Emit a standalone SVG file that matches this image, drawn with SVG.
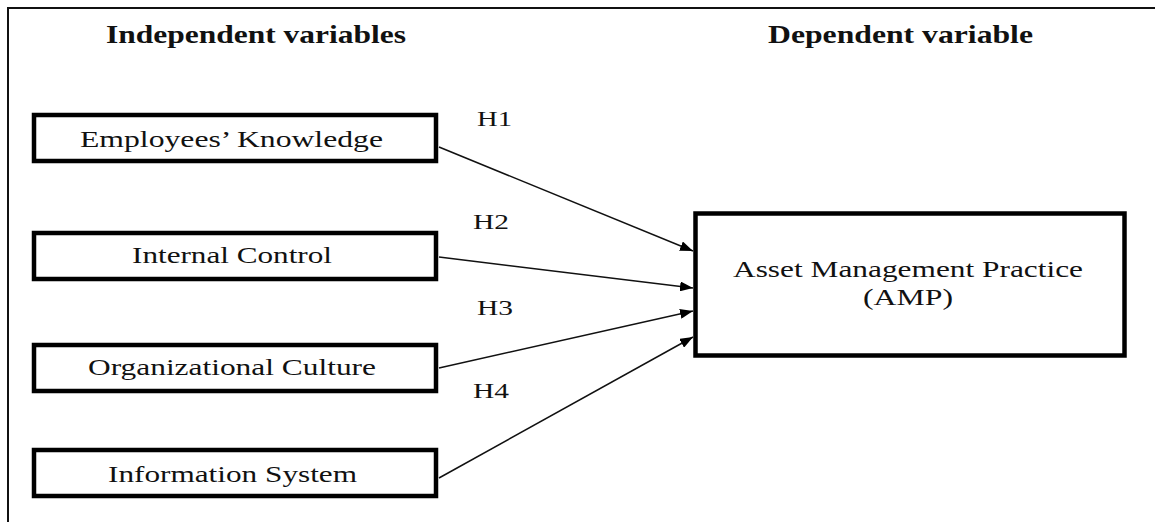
<svg xmlns="http://www.w3.org/2000/svg" width="1155" height="522" viewBox="0 0 1155 522">
<style>
.box{fill:#fff;stroke:#000;stroke-width:4.5}
.lbl{font-family:"Liberation Serif","Times New Roman",serif;font-size:23.5px;fill:#111}
.h{font-family:"Liberation Serif","Times New Roman",serif;font-size:20.5px;fill:#111}
.hdr{font-family:"Liberation Serif","Times New Roman",serif;font-size:24.5px;font-weight:bold;fill:#111}
.con{stroke:#111;stroke-width:1.5;fill:none}
</style>
<defs>
<marker id="ah" markerUnits="userSpaceOnUse" markerWidth="14" markerHeight="10" refX="13" refY="5" orient="auto">
<path d="M0,0 L13,5 L0,10 z" fill="#000"/>
</marker>
</defs>
<rect width="1155" height="522" fill="#fff"/>
<path d="M8,522 V8 H1155" stroke="#111" stroke-width="2" fill="none"/>
<g id="headers">
<text class="hdr" x="106" y="43" textLength="300" lengthAdjust="spacingAndGlyphs">Independent variables</text>
<text class="hdr" x="768" y="43" textLength="265" lengthAdjust="spacingAndGlyphs">Dependent variable</text>
</g>
<g id="connectors">
<line class="con" x1="439" y1="147" x2="693" y2="251" marker-end="url(#ah)"/>
<line class="con" x1="439" y1="257" x2="693" y2="288" marker-end="url(#ah)"/>
<line class="con" x1="439" y1="368" x2="693" y2="311" marker-end="url(#ah)"/>
<line class="con" x1="439" y1="478" x2="693" y2="337" marker-end="url(#ah)"/>
<text class="h" x="477" y="126" textLength="35" lengthAdjust="spacingAndGlyphs">H1</text>
<text class="h" x="473" y="229" textLength="36" lengthAdjust="spacingAndGlyphs">H2</text>
<text class="h" x="477" y="315" textLength="36" lengthAdjust="spacingAndGlyphs">H3</text>
<text class="h" x="473" y="398" textLength="36" lengthAdjust="spacingAndGlyphs">H4</text>
</g>
<g id="ek">
<rect class="box" x="34" y="115" width="402" height="46"/>
<text class="lbl" x="80" y="147" textLength="303" lengthAdjust="spacingAndGlyphs">Employees’ Knowledge</text>
</g>
<g id="ic">
<rect class="box" x="34" y="233" width="402" height="46"/>
<text class="lbl" x="132" y="263" textLength="200" lengthAdjust="spacingAndGlyphs">Internal Control</text>
</g>
<g id="oc">
<rect class="box" x="34" y="345" width="402" height="46"/>
<text class="lbl" x="88" y="375" textLength="288" lengthAdjust="spacingAndGlyphs">Organizational Culture</text>
</g>
<g id="is">
<rect class="box" x="34" y="450" width="402" height="46"/>
<text class="lbl" x="108" y="482" textLength="249" lengthAdjust="spacingAndGlyphs">Information System</text>
</g>
<g id="amp">
<rect class="box" x="695.5" y="213.5" width="429" height="142" stroke-width="5"/>
<text class="lbl" x="733" y="277" textLength="350" lengthAdjust="spacingAndGlyphs">Asset Management Practice</text>
<text class="lbl" x="863" y="305" textLength="90" lengthAdjust="spacingAndGlyphs">(AMP)</text>
</g>
</svg>
